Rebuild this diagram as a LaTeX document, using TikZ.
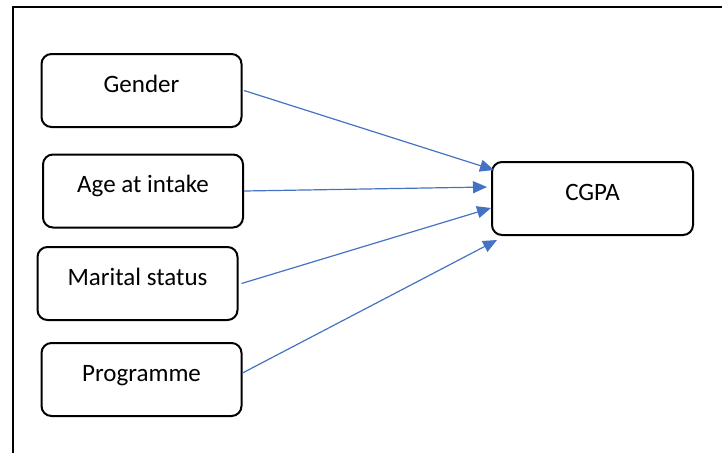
\documentclass[tikz,border=0pt]{standalone}
\usepackage{fontspec}
\setmainfont{Carlito}
\usetikzlibrary{arrows.meta}
\definecolor{linkblue}{HTML}{4472C4}
\tikzset{
  varbox/.style={draw=black, line width=2pt, rounded corners=10pt,
    minimum width=200pt, minimum height=73pt, inner sep=0pt,
    text height=18pt, text depth=15pt,
    font=\fontsize{25pt}{30pt}\selectfont},
  link/.style={draw=linkblue, line width=1.2pt,
    -{Triangle[length=14pt,width=12pt]}},
  frameline/.style={draw=black, line width=2pt}
}
\begin{document}
\begin{tikzpicture}[x=1pt, y=-1pt]
  \useasboundingbox (0,0) rectangle (722,453);
  % open frame: only the top and left sides
  \coordinate (ftr) at (722,7);
  \coordinate (ftl) at (12.8,7);
  \coordinate (fbl) at (12.8,453);
  \draw[frameline] (ftr) -- (ftl) -- (fbl);

  % predictor boxes
  \node[varbox] (gender)  at (141.5,90.5)  {Gender};
  \node[varbox] (age)     at (143,191)     {Age at intake};
  \node[varbox] (marital) at (137.5,283.5) {Marital status};
  \node[varbox] (prog)    at (141.5,379.5) {Programme};

  % outcome box
  \node[varbox, minimum width=201pt] (cgpa) at (592.5,198.5) {CGPA};

  % effects
  \draw[link] ([xshift=1.5pt]gender.east) -- ([xshift=3pt,yshift=28.5pt]cgpa.west);
  \draw[link] (age.east) -- ([xshift=-4pt,yshift=11.5pt]cgpa.west);
  \draw[link] ([xshift=3pt]marital.east) -- ([yshift=-9.5pt]cgpa.west);
  \draw[link] ([yshift=6.5pt]prog.east) -- ([xshift=6pt,yshift=-41.5pt]cgpa.west);
\end{tikzpicture}
\end{document}
